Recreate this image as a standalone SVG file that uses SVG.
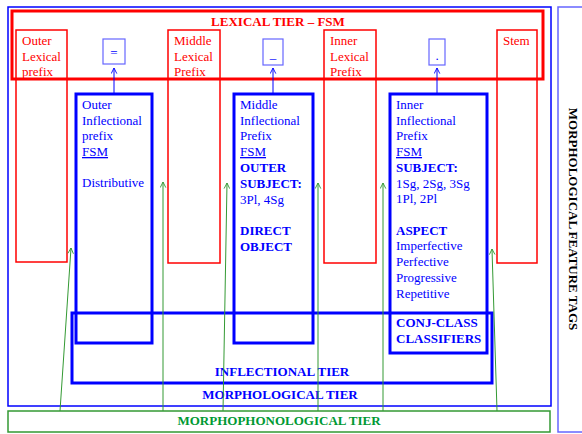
<svg xmlns="http://www.w3.org/2000/svg" width="582" height="434" viewBox="0 0 582 434">
<style>
text{font-family:"Liberation Serif","Times New Roman",serif;font-size:13px}
.r{fill:#ff0000}
.b{fill:#0000ff}
.g{fill:#009933}
.bd{font-weight:bold}
.mid{text-anchor:middle}
.rbox{fill:none;stroke:#ff0000;stroke-width:1.5}
.bbox{fill:none;stroke:#0000ff;stroke-width:3}
.sbox{fill:none;stroke:#6666ff;stroke-width:1.2}
.ga{stroke:#339933;stroke-width:1;fill:none;marker-end:url(#ga)}
.ba{stroke:#0000ff;stroke-width:1;fill:none;marker-end:url(#ba)}
</style>
<defs>
<marker id="ga" viewBox="0 0 10 10" refX="9" refY="5" markerWidth="7" markerHeight="7" orient="auto" markerUnits="userSpaceOnUse"><path d="M1,1 L9,5 L1,9" fill="none" stroke="#339933" stroke-width="1.3"/></marker>
<marker id="ba" viewBox="0 0 10 10" refX="9" refY="5" markerWidth="7" markerHeight="7" orient="auto" markerUnits="userSpaceOnUse"><path d="M1,1 L9,5 L1,9" fill="none" stroke="#0000ff" stroke-width="1.3"/></marker>
</defs>

<g id="morphological-tier">
<rect x="8" y="7" width="543" height="399" fill="none" stroke="#0000ff" stroke-width="1.5"/>
<text class="b bd mid" x="280" y="399">MORPHOLOGICAL TIER</text>
</g>

<g id="feature-tags">
<rect x="558" y="7" width="30" height="425" fill="none" stroke="#6666ff" stroke-width="1.5"/>
<text class="bd mid" x="569" y="219" transform="rotate(90 569 219)" fill="#000">MORPHOLOGICAL FEATURE TAGS</text>
</g>

<g id="lexical-tier">
<rect x="12" y="11" width="531" height="68" fill="none" stroke="#ff0000" stroke-width="3"/>
<text class="r bd mid" x="278" y="26">LEXICAL TIER – FSM</text>
</g>

<g id="outer-lexical">
<rect class="rbox" x="16" y="30" width="51" height="232"/>
<text class="r" x="22" y="45">Outer</text>
<text class="r" x="22" y="61">Lexical</text>
<text class="r" x="22" y="76">prefix</text>
</g>
<g id="middle-lexical">
<rect class="rbox" x="168" y="30" width="52" height="233"/>
<text class="r" x="174" y="45">Middle</text>
<text class="r" x="174" y="61">Lexical</text>
<text class="r" x="174" y="76">Prefix</text>
</g>
<g id="inner-lexical">
<rect class="rbox" x="324" y="30" width="52" height="233"/>
<text class="r" x="330" y="45">Inner</text>
<text class="r" x="330" y="61">Lexical</text>
<text class="r" x="330" y="76">Prefix</text>
</g>
<g id="stem">
<rect class="rbox" x="497" y="30" width="40" height="233"/>
<text class="r" x="503" y="45">Stem</text>
</g>

<g id="eq-box">
<rect class="sbox" x="103" y="39" width="22" height="25"/>
<text class="b mid" x="114" y="57">=</text>
</g>
<g id="underscore-box">
<rect class="sbox" x="263" y="39" width="20" height="26"/>
<text class="b mid" x="273" y="58">_</text>
</g>
<g id="dot-box">
<rect class="sbox" x="429" y="39" width="16" height="26"/>
<text class="b mid" x="437" y="60">.</text>
</g>

<g id="inflectional-tier">
<rect class="bbox" x="72" y="313" width="420" height="70"/>
<text class="b bd mid" x="282" y="376">INFLECTIONAL TIER</text>
</g>

<g id="outer-inflectional">
<rect class="bbox" x="76" y="94" width="76" height="249"/>
<text class="b" x="82" y="109">Outer</text>
<text class="b" x="82" y="125">Inflectional</text>
<text class="b" x="82" y="140">prefix</text>
<text class="b" x="82" y="156" text-decoration="underline">FSM</text>
<text class="b" x="82" y="187">Distributive</text>
</g>

<g id="middle-inflectional">
<rect class="bbox" x="234" y="94" width="79" height="249"/>
<text class="b" x="240" y="109">Middle</text>
<text class="b" x="240" y="125">Inflectional</text>
<text class="b" x="240" y="140">Prefix</text>
<text class="b" x="240" y="156" text-decoration="underline">FSM</text>
<text class="b bd" x="240" y="172">OUTER</text>
<text class="b bd" x="240" y="188">SUBJECT:</text>
<text class="b" x="240" y="204">3Pl, 4Sg</text>
<text class="b bd" x="240" y="235">DIRECT</text>
<text class="b bd" x="240" y="251">OBJECT</text>
</g>

<g id="inner-inflectional">
<rect class="bbox" x="390" y="94" width="97" height="259"/>
<text class="b" x="396" y="109">Inner</text>
<text class="b" x="396" y="125">Inflectional</text>
<text class="b" x="396" y="140">Prefix</text>
<text class="b" x="396" y="156" text-decoration="underline">FSM</text>
<text class="b bd" x="396" y="172">SUBJECT:</text>
<text class="b" x="396" y="188">1Sg, 2Sg, 3Sg</text>
<text class="b" x="396" y="203">1Pl, 2Pl</text>
<text class="b bd" x="396" y="235">ASPECT</text>
<text class="b" x="396" y="250">Imperfective</text>
<text class="b" x="396" y="266">Perfective</text>
<text class="b" x="396" y="282">Progressive</text>
<text class="b" x="396" y="298">Repetitive</text>
<text class="b bd" x="396" y="327">CONJ-CLASS</text>
<text class="b bd" x="396" y="343">CLASSIFIERS</text>
</g>

<g id="morphophonological-tier">
<rect x="8" y="411" width="542" height="21" fill="none" stroke="#339933" stroke-width="1.5"/>
<text class="g bd mid" x="279" y="425">MORPHOPHONOLOGICAL TIER</text>
</g>

<g id="connectors">
<line class="ba" x1="114" y1="93" x2="114" y2="68"/>
<line class="ba" x1="273" y1="93" x2="273" y2="68"/>
<line class="ba" x1="437" y1="93" x2="437" y2="68"/>
<line class="ga" x1="60" y1="411" x2="71" y2="248"/>
<line class="ga" x1="163" y1="411" x2="163" y2="182"/>
<line class="ga" x1="223" y1="411" x2="227" y2="183"/>
<line class="ga" x1="318" y1="411" x2="318" y2="183"/>
<line class="ga" x1="383" y1="411" x2="383" y2="183"/>
<line class="ga" x1="497" y1="411" x2="492" y2="249"/>
</g>
</svg>
